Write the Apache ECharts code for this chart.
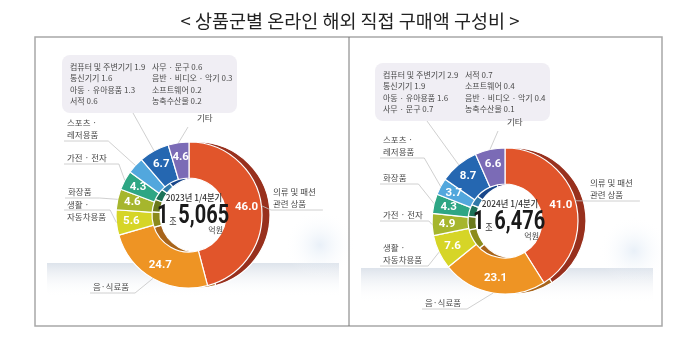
<!DOCTYPE html>
<html>
<head>
<meta charset="utf-8">
<script src="https://cdn.jsdelivr.net/npm/echarts@6/dist/echarts.min.js"></script>
<style>
  html, body { margin: 0; padding: 0; background: #fff; }
  #chart { width: 700px; height: 340px; }
</style>
</head>
<body>
<div id="chart"></div>
<script>
// ---- data ----
const chartTitle = '< 상품군별 온라인 해외 직접 구매액 구성비 >';
const periods = ['2023년 1/4분기', '2024년 1/4분기'];
const totalsJo = ['1', '1'];
const totalsEok = ['5,065', '6,476'];
const totalUnit = '억원';

const slotNames2023 = ['의류 및 패션\n관련 상품', '음·식료품', '생활 ·\n자동차용품', '화장품', '가전 · 전자', '스포츠 ·\n레저용품', '세부 품목', '기타'];
const values2023 = [46.0, 24.7, 5.6, 4.6, 4.3, 3.7, 6.7, 4.6];
const detailNames2023 = ['컴퓨터 및 주변기기', '통신기기', '아동 · 유아용품', '서적', '사무 · 문구', '음반 · 비디오 · 악기', '소프트웨어', '농축수산물'];
const detailValues2023 = [1.9, 1.6, 1.3, 0.6, 0.6, 0.3, 0.2, 0.2];

const slotNames2024 = ['의류 및 패션\n관련 상품', '음·식료품', '생활 ·\n자동차용품', '가전 · 전자', '화장품', '스포츠 ·\n레저용품', '세부 품목', '기타'];
const values2024 = [41.0, 23.1, 7.6, 4.9, 4.3, 3.7, 8.7, 6.6];
const detailNames2024 = ['컴퓨터 및 주변기기', '통신기기', '아동 · 유아용품', '사무 · 문구', '서적', '소프트웨어', '음반 · 비디오 · 악기', '농축수산물'];
const detailValues2024 = [2.9, 1.9, 1.6, 0.7, 0.7, 0.4, 0.4, 0.1];

// ---- styling ----
const faceColors = ['#e1552b', '#ee9424', '#d6d527', '#a6b62d', '#2ea684', '#52a7dd', '#2567b1', '#7b6bb6'];
const wallColors = ['#98301d', '#a8641a', '#8c8b1c', '#6b7a1c', '#1c7258', '#2f78a8', '#18468a', '#4f4489'];
const KR = '"Noto Sans CJK KR", "Noto Sans", sans-serif';
const NUM = 'Roboto, "Liberation Sans", sans-serif';
const RADIUS = [37, 73];
const DEPTH = 8;

// label placement for each slice (pixel layout, per panel)
const panels = [
  {
    frameX: 35, cx: 189, cy: 215, bandY: 263,
    names: slotNames2023, values: values2023,
    detailNames: detailNames2023, detailValues: detailValues2023,
    labels: [
      { x: 273, y: 186, kind: 'right' },
      { x: 93, y: 281, kind: 'left' },
      { x: 67, y: 199, kind: 'left', lineAt: 11, ext: 4 },
      { x: 68, y: 186, kind: 'left', ext: 8 },
      { x: 67, y: 152, kind: 'left', ext: 12 },
      { x: 67, y: 117, kind: 'left', ext: 10 },
      { x: 62, y: 55, kind: 'box', bx: 71 },
      { x: 197, y: 112, kind: 'tag' }
    ]
  },
  {
    frameX: 349, cx: 505, cy: 221, bandY: 268,
    names: slotNames2024, values: values2024,
    detailNames: detailNames2024, detailValues: detailValues2024,
    labels: [
      { x: 590, y: 177, kind: 'right' },
      { x: 425, y: 297, kind: 'left' },
      { x: 383, y: 242, kind: 'left' },
      { x: 383, y: 209, kind: 'left' },
      { x: 383, y: 172, kind: 'left', ext: 12 },
      { x: 383, y: 134, kind: 'left', ext: 10 },
      { x: 375, y: 63, kind: 'box', bx: 52 },
      { x: 507, y: 116, kind: 'tag' }
    ]
  }
];

function detailBox(names, values) {
  const lines = [];
  for (let i = 0; i < 4; i++) {
    lines.push('{c|' + names[i] + ' ' + values[i].toFixed(1) + '}{d|' + names[i + 4] + ' ' + values[i + 4].toFixed(1) + '}');
  }
  return lines.join('\n');
}

function makeLayout(table) {
  return function (p) {
    const L = table[p.dataIndex];
    const w = p.labelRect.width, h = p.labelRect.height;
    const x = L.x, y = L.y;
    const p0 = p.labelLinePoints ? p.labelLinePoints[0] : [x, y];
    const ly = y + (L.lineAt != null ? L.lineAt : h);
    let pts;
    if (L.kind === 'right') {
      pts = [p0, [x - 2, ly], [x + w + 7, ly]];
    } else if (L.kind === 'left') {
      pts = [p0, [x + w + (L.ext || 6), ly], [x - 3, ly]];
    } else if (L.kind === 'box') {
      pts = [p0, [x + L.bx, y + h], [x + L.bx, y + h]];
    } else {
      pts = [p0, [x - 9, y + h + 3], [x - 9, y + h + 3]];
    }
    return { x: x, y: y, align: 'left', verticalAlign: 'top', labelLinePoints: pts };
  };
}

const series = [];
const graphics = [];

// frame
graphics.push({
  type: 'rect', z: -5, silent: true,
  shape: { x: 35, y: 37, width: 627, height: 289 },
  style: { fill: 'none', stroke: '#a8a8a8', lineWidth: 1.5 }
});
graphics.push({
  type: 'line', z: -5, silent: true,
  shape: { x1: 349, y1: 37, x2: 349, y2: 326 },
  style: { stroke: '#777', lineWidth: 1 }
});

panels.forEach(function (P, k) {
  // soft floor band and glow behind the ring
  graphics.push({
    type: 'rect', z: -10, silent: true,
    shape: { x: P.frameX + 12, y: P.bandY, width: 292, height: 34 },
    style: {
      fill: new echarts.graphic.LinearGradient(0, 0, 0, 1, [
        { offset: 0, color: '#dde3eb' },
        { offset: 1, color: 'rgba(255,255,255,0)' }
      ])
    }
  });
  graphics.push({
    type: 'ellipse', z: -9, silent: true,
    shape: { cx: P.frameX + 285, cy: P.cy + 30, rx: 50, ry: 35 },
    style: {
      fill: new echarts.graphic.RadialGradient(0.5, 0.5, 0.5, [
        { offset: 0, color: 'rgba(206,222,240,0.45)' },
        { offset: 1, color: 'rgba(255,255,255,0)' }
      ])
    }
  });

  const data = P.values.map(function (v, i) { return { name: P.names[i], value: v }; });

  // depth wall of the ring
  series.push({
    type: 'pie', silent: true, z: 1,
    center: [P.cx + DEPTH, P.cy], radius: RADIUS,
    startAngle: 90, clockwise: true,
    label: { show: false }, labelLine: { show: false },
    itemStyle: {
      color: function (p) { return wallColors[p.dataIndex]; },
      borderColor: '#fff', borderWidth: 1.2
    },
    data: data
  });

  // ring face with values
  series.push({
    type: 'pie', silent: true, z: 2,
    center: [P.cx, P.cy], radius: RADIUS,
    startAngle: 90, clockwise: true,
    avoidLabelOverlap: false,
    label: {
      show: true, position: 'inside',
      formatter: function (p) { return p.value.toFixed(1); },
      color: '#fff', fontSize: 11.5, fontWeight: 'bold', fontFamily: NUM
    },
    labelLine: { show: false },
    itemStyle: {
      color: function (p) { return faceColors[p.dataIndex]; },
      borderColor: '#fff', borderWidth: 1.2
    },
    data: data
  });

  // category labels with leader lines
  series.push({
    type: 'pie', silent: true, z: 3,
    center: [P.cx, P.cy], radius: RADIUS,
    startAngle: 90, clockwise: true,
    avoidLabelOverlap: false,
    itemStyle: { color: 'rgba(0,0,0,0)' },
    label: {
      show: true, position: 'outside',
      formatter: function (p) {
        if (p.dataIndex === 6) return detailBox(P.detailNames, P.detailValues);
        return p.name;
      },
      color: '#4a4a4a', fontSize: 8.5, lineHeight: 12, fontFamily: KR
    },
    labelLine: {
      show: true, length: 6, length2: 6, smooth: false,
      lineStyle: { color: '#c4c4c4', width: 0.8 }
    },
    labelLayout: makeLayout(P.labels),
    data: data.map(function (d, i) {
      if (i !== 6) return d;
      return {
        name: d.name, value: d.value,
        label: {
          backgroundColor: '#f0eef4', borderRadius: 8, padding: [6, 7, 6, 8],
          rich: {
            c: { width: 82, fontSize: 8, lineHeight: 11.5, color: '#4a4a4a', fontFamily: KR },
            d: { width: 78, fontSize: 8, lineHeight: 11.5, color: '#4a4a4a', fontFamily: KR }
          }
        }
      };
    })
  });

  // centre total
  const tx = P.cx + DEPTH / 2;
  graphics.push({
    type: 'text', z: 20, silent: true,
    x: tx + 1, y: P.cy - 17, scaleX: 0.92,
    style: {
      x: 0, y: 0, text: periods[k],
      align: 'center', verticalAlign: 'middle',
      font: '500 9px ' + KR, fill: '#333'
    }
  });
  graphics.push({
    type: 'text', z: 20, silent: true,
    x: tx, y: P.cy + 14, scaleX: 0.8,
    style: {
      x: 0, y: 0, text: '{n|' + totalsJo[k] + '}{u|조 }{n|' + totalsEok[k] + '}',
      align: 'center', verticalAlign: 'bottom',
      rich: {
        n: { fontSize: 25, fontWeight: 'bold', fontFamily: NUM, fill: '#1a1a1a', verticalAlign: 'bottom', lineHeight: 26 },
        u: { fontSize: 10, fontFamily: KR, fill: '#333', verticalAlign: 'bottom', lineHeight: 14, padding: [0, 0, 3, 1] }
      }
    }
  });
  graphics.push({
    type: 'text', z: 20, silent: true,
    style: {
      x: tx + 30, y: P.cy + 15, text: totalUnit,
      align: 'right', verticalAlign: 'middle',
      font: '8px ' + KR, fill: '#444'
    }
  });
});

const chart = echarts.init(document.getElementById('chart'), null, { renderer: 'canvas' });
chart.setOption({
  backgroundColor: '#fff',
  animation: false,
  title: {
    text: chartTitle, left: 'center', top: 7,
    textStyle: { fontSize: 18.5, fontWeight: 'normal', color: '#222', fontFamily: KR }
  },
  graphic: graphics,
  series: series
});
</script>
</body>
</html>
